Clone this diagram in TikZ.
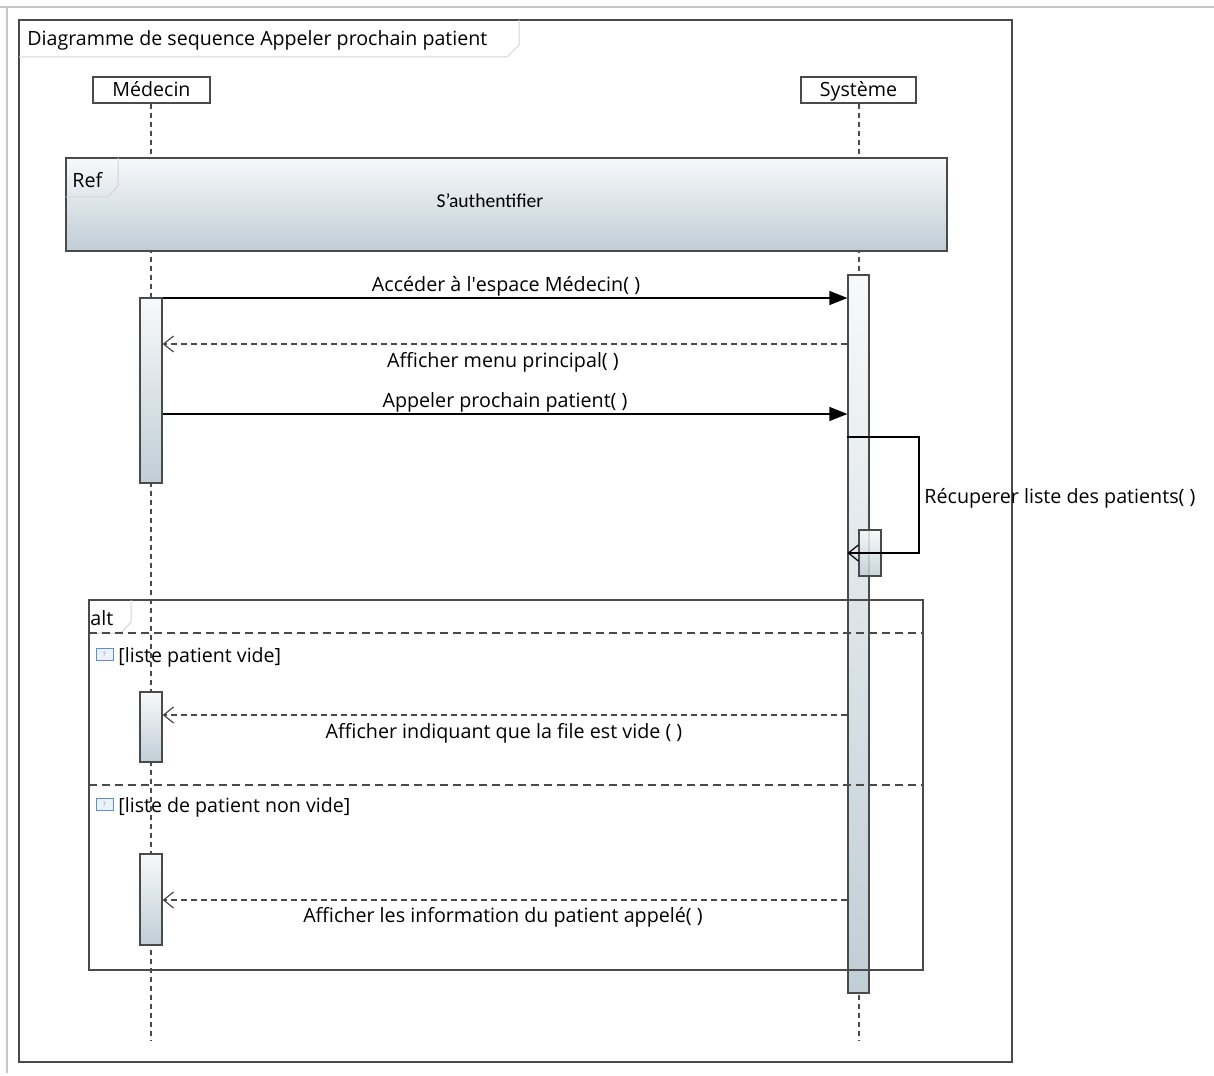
\documentclass[tikz,border=0pt]{standalone}
\usepackage{fontspec}
\setmainfont{Open Sans}
\newfontfamily\calfont{Carlito}
\usetikzlibrary{arrows.meta}
\definecolor{framec}{HTML}{4A4A4A}
\definecolor{tabc}{HTML}{D4D4D4}
\definecolor{boxbot}{HTML}{C0CED6}
\definecolor{boxtop}{HTML}{F7F9FA}
\definecolor{icoc}{HTML}{5B8FD0}
\tikzset{
  actor/.style={draw=framec, line width=0.7pt, fill=white, minimum height=13pt, inner sep=0pt, font=\fontsize{9.8}{11}\selectfont},
  life/.style={draw=framec, line width=0.6pt, dash pattern=on 2.5pt off 2pt},
  actbox/.style={draw=framec, line width=0.6pt, top color=boxtop, bottom color=boxbot, inner sep=0pt, minimum width=11pt},
  fragframe/.style={draw=framec, line width=0.7pt},
  tabline/.style={draw=tabc, line width=0.5pt},
  call/.style={draw=black, line width=0.6pt, -{Triangle[length=9pt,width=7pt]}},
  reply/.style={draw=framec, line width=0.6pt, dash pattern=on 3pt off 2pt, -{Straight Barb[length=5pt,width=8pt]}},
  selfmsg/.style={draw=black, line width=0.6pt, -{Straight Barb[length=5pt,width=8pt]}},
  lbl/.style={inner sep=0pt, font=\fontsize{9.85}{11}\selectfont, anchor=base},
  guard/.style={inner sep=0pt, font=\fontsize{9.8}{11}\selectfont, anchor=base west},
  icon/.style={draw=icoc, fill=icoc!12, line width=0.4pt, minimum width=8.5pt, minimum height=6pt, inner sep=0pt, font=\fontsize{3}{3}\selectfont, text=icoc},
}
\begin{document}
\begin{tikzpicture}[x=0.5pt,y=-0.5pt]
\useasboundingbox (0,0) rectangle (1214,1075);
\fill[white] (0,0) rectangle (1214,1075);
% outer light border lines
\draw[gray!45, line width=0.6pt] (0,7) -- (1214,7);
\draw[gray!45, line width=0.6pt] (7,7) -- (7,1073);
% main frame
\draw[fragframe] (19,20) rectangle (1012,1062);
\draw[tabline] (19,57) -- (507,57) -- (519,45) -- (519,20);
\node[inner sep=0pt, anchor=base west, font=\fontsize{9.8}{11}\selectfont] (title) at (27,46) {Diagramme de sequence Appeler prochain patient};

% actors
\node[actor, minimum width=58.5pt] (med) at (151.5,90) {};
\node[inner sep=0pt, anchor=base, font=\fontsize{9.8}{11}\selectfont] (medt) at (151.5,97) {Médecin};
\node[actor, minimum width=57.5pt] (sys) at (858.5,90) {};
\node[inner sep=0pt, anchor=base, font=\fontsize{9.8}{11}\selectfont] (syst) at (858.5,97) {Système};
\coordinate (medend) at (151,1040);
\coordinate (sysend) at (859,1040);
\draw[life] (med.south -| medend) -- (medend);
\draw[life] (sys.south -| sysend) -- (sysend);

% Ref fragment
\node[fragframe, top color=boxtop, bottom color=boxbot, minimum width=440.5pt, minimum height=46.5pt, inner sep=0pt] (ref) at (506.5,204.5) {};
\draw[tabline] (66,197) -- (108,197) -- (118,186) -- (118,158);
\node[lbl, anchor=base west] (reft) at (72,188) {Ref};
\node[inner sep=0pt, anchor=base, font=\calfont\fontsize{9.8}{11}\selectfont] (reftxt) at (490,208) {S’authentifier};

% activations
\node[actbox, minimum height=92.5pt] (am1) at (151,390.5) {};
\node[actbox, minimum width=10.5pt, minimum height=359pt] (as) at (858.5,634) {};
\node[actbox, minimum height=23pt, fill opacity=0.85] (asn) at (870,553) {};
\node[actbox, minimum height=35pt] (am2) at (151,727) {};
\node[actbox, minimum height=45.5pt] (am3) at (151,899.5) {};

% messages
\coordinate (y1) at (0,298);
\coordinate (y2) at (0,344);
\coordinate (y3) at (0,414);
\coordinate (s1) at (919,437);
\coordinate (s2) at (919,553);
\coordinate (y4) at (0,715);
\coordinate (y5) at (0,900);

\draw[call] (am1.east |- y1) -- (as.west |- y1);
\node[lbl] (l1) at (506,291) {Accéder à l\textquotesingle espace Médecin( )};
\draw[reply] (as.west |- y2) -- (am1.east |- y2);
\node[lbl] (l2) at (503,367) {Afficher menu principal( )};
\draw[call] (am1.east |- y3) -- (as.west |- y3);
\node[lbl] (l3) at (505,407) {Appeler prochain patient( )};
\draw[selfmsg] (as.west |- s1) -- (s1) -- (s2) -- (as.west |- s2);
\node[lbl, anchor=base west] (l4) at (924,503) {Récuperer liste des patients( )};

% alt fragment
\draw[fragframe] (89,600) rectangle (923,970);
\node[inner sep=0pt, minimum width=417pt, minimum height=185pt] (alt) at (506,785) {};
\draw[tabline] (89,633) -- (121,633) -- (131,622) -- (131,600);
\node[lbl, anchor=base west] (altt) at (90,625) {alt};
\draw[framec, line width=0.6pt, dash pattern=on 4pt off 2.5pt] (alt.west |- 0,633) -- (alt.east |- 0,633);
\draw[framec, line width=0.6pt, dash pattern=on 4pt off 2.5pt] (alt.west |- 0,785) -- (alt.east |- 0,785);
\node[icon] (ic1) at (104.5,654) {?};
\node[guard] (g1) at (118,662) {[liste patient vide]};
\node[icon] (ic2) at (104.5,804) {?};
\node[guard] (g2) at (118,812) {[liste de patient non vide]};

\draw[reply] (as.west |- y4) -- (am2.east |- y4);
\node[lbl] (l5) at (504,738) {Afficher indiquant que la file est vide ( )};
\draw[reply] (as.west |- y5) -- (am3.east |- y5);
\node[lbl] (l6) at (503,922) {Afficher les information du patient appelé( )};
\end{tikzpicture}
\end{document}
